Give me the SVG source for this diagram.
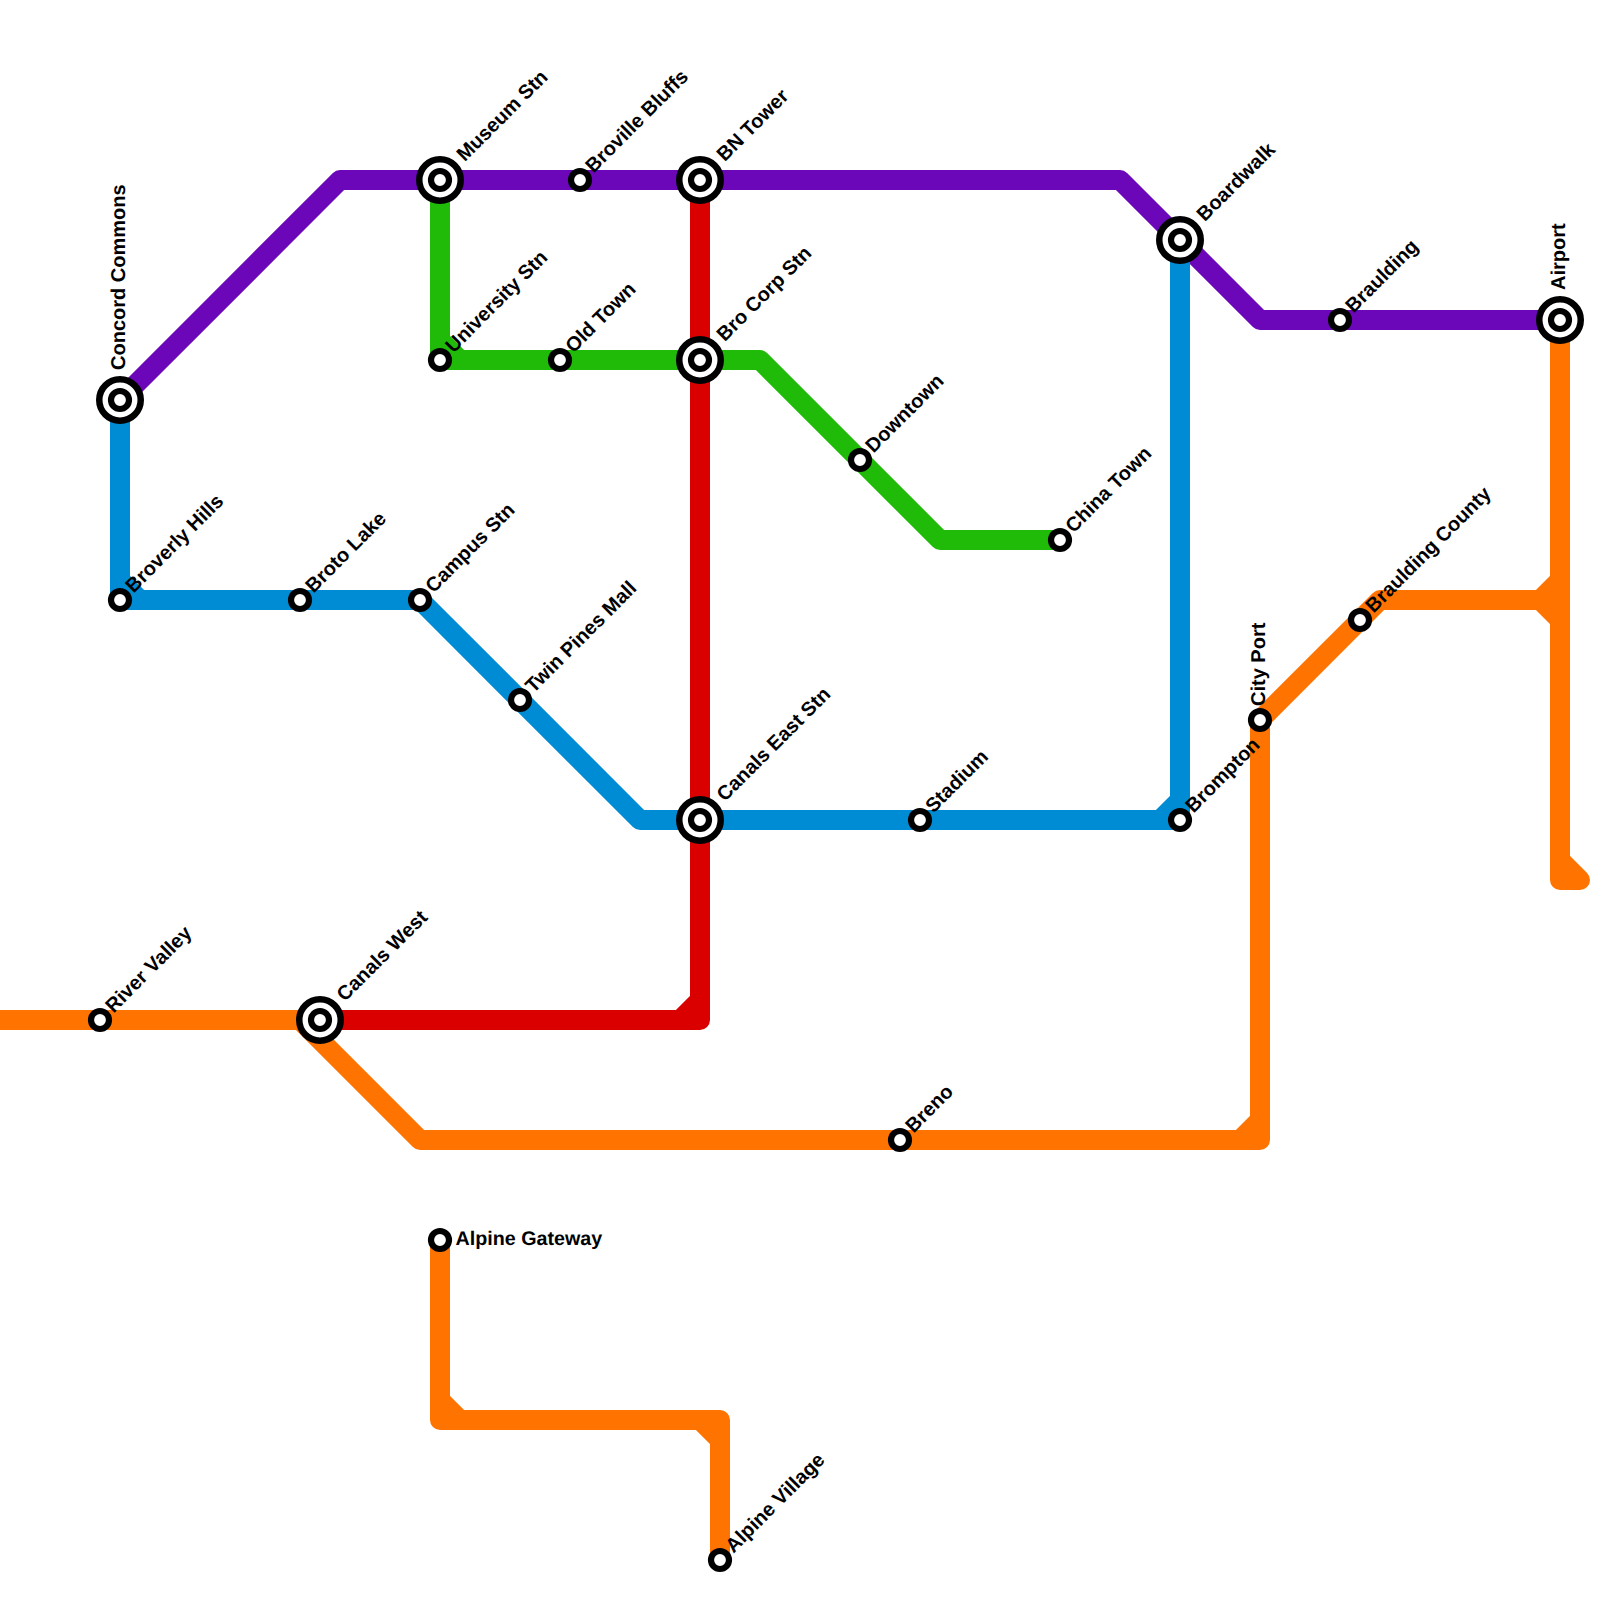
<svg xmlns="http://www.w3.org/2000/svg" width="1600" height="1600" viewBox="0 0 1600 1600">
<style>
.line{fill:none;stroke-width:20;stroke-linejoin:round;stroke-linecap:round}
.s{fill:#fff;stroke:#000;stroke-width:6.2}
.o{stroke-width:6.5}
text{font-family:"Liberation Sans",Arial,sans-serif;font-weight:700;font-size:20px;fill:#000;text-rendering:geometricPrecision}
</style>
<rect width="1600" height="1600" fill="#fff"/>
<g id="connectors">
<path class="line" style="stroke:#1fbb08" d="M440 180V360H760L940 540H1060M440 340L460 360H440Z"/>
<path class="line" style="stroke:#da0000" d="M320 1020H700V180M680 1020L700 1000V1020Z"/>
<path class="line" style="stroke:#6b07b8" d="M120 400L340 180H1120L1260 320H1560"/>
<path class="line" style="stroke:#008cd4" d="M120 400V600H420L640 820H1180V240M120 580L140 600H120ZM1160 820L1180 800V820Z"/>
<path class="line" style="stroke:#ff7300" d="M-20 1020H320M300 1020L420 1140H1260V720L1380 600H1560M1560 320V880M1240 1140L1260 1120V1140ZM1540 600L1560 580V620ZM1560 860L1580 880H1560Z"/>
<path class="line" style="stroke:#ff7300" d="M440 1240V1420H720V1560M440 1400L460 1420H440ZM700 1420L720 1440V1420Z"/>
</g>
<g id="concord-commons" transform="translate(120 400)"><circle class="s o" r="20.75"/><circle class="s" r="9"/><text transform="rotate(-90)" x="30" y="5">Concord Commons</text></g>
<g id="broverly-hills" transform="translate(120 600)"><circle class="s" r="9"/><text transform="rotate(-45)" x="14" y="5">Broverly Hills</text></g>
<g id="broto-lake" transform="translate(300 600)"><circle class="s" r="9"/><text transform="rotate(-45)" x="14" y="5">Broto Lake</text></g>
<g id="campus-stn" transform="translate(420 600)"><circle class="s" r="9"/><text transform="rotate(-45)" x="14" y="5">Campus Stn</text></g>
<g id="twin-pines-mall" transform="translate(520 700)"><circle class="s" r="9"/><text transform="rotate(-45)" x="14" y="5">Twin Pines Mall</text></g>
<g id="canals-east-stn" transform="translate(700 820)"><circle class="s o" r="20.75"/><circle class="s" r="9"/><text transform="rotate(-45)" x="30" y="5">Canals East Stn</text></g>
<g id="stadium" transform="translate(920 820)"><circle class="s" r="9"/><text transform="rotate(-45)" x="14" y="5">Stadium</text></g>
<g id="brompton" transform="translate(1180 820)"><circle class="s" r="9"/><text transform="rotate(-45)" x="14" y="5">Brompton</text></g>
<g id="museum-stn" transform="translate(440 180)"><circle class="s o" r="20.75"/><circle class="s" r="9"/><text transform="rotate(-45)" x="30" y="5">Museum Stn</text></g>
<g id="broville-bluffs" transform="translate(580 180)"><circle class="s" r="9"/><text transform="rotate(-45)" x="14" y="5">Broville Bluffs</text></g>
<g id="bn-tower" transform="translate(700 180)"><circle class="s o" r="20.75"/><circle class="s" r="9"/><text transform="rotate(-45)" x="30" y="5">BN Tower</text></g>
<g id="university-stn" transform="translate(440 360)"><circle class="s" r="9"/><text transform="rotate(-45)" x="14" y="5">University Stn</text></g>
<g id="old-town" transform="translate(560 360)"><circle class="s" r="9"/><text transform="rotate(-45)" x="14" y="5">Old Town</text></g>
<g id="bro-corp-stn" transform="translate(700 360)"><circle class="s o" r="20.75"/><circle class="s" r="9"/><text transform="rotate(-45)" x="30" y="5">Bro Corp Stn</text></g>
<g id="downtown" transform="translate(860 460)"><circle class="s" r="9"/><text transform="rotate(-45)" x="14" y="5">Downtown</text></g>
<g id="china-town" transform="translate(1060 540)"><circle class="s" r="9"/><text transform="rotate(-45)" x="14" y="5">China Town</text></g>
<g id="boardwalk" transform="translate(1180 240)"><circle class="s o" r="20.75"/><circle class="s" r="9"/><text transform="rotate(-45)" x="30" y="5">Boardwalk</text></g>
<g id="braulding" transform="translate(1340 320)"><circle class="s" r="9"/><text transform="rotate(-45)" x="14" y="5">Braulding</text></g>
<g id="airport" transform="translate(1560 320)"><circle class="s o" r="20.75"/><circle class="s" r="9"/><text transform="rotate(-90)" x="30" y="5">Airport</text></g>
<g id="braulding-county" transform="translate(1360 620)"><circle class="s" r="9"/><text transform="rotate(-45)" x="14" y="5">Braulding County</text></g>
<g id="city-port" transform="translate(1260 720)"><circle class="s" r="9"/><text transform="rotate(-90)" x="14" y="5">City Port</text></g>
<g id="river-valley" transform="translate(100 1020)"><circle class="s" r="9"/><text transform="rotate(-45)" x="14" y="5">River Valley</text></g>
<g id="canals-west" transform="translate(320 1020)"><circle class="s o" r="20.75"/><circle class="s" r="9"/><text transform="rotate(-45)" x="30" y="5">Canals West</text></g>
<g id="breno" transform="translate(900 1140)"><circle class="s" r="9"/><text transform="rotate(-45)" x="14" y="5">Breno</text></g>
<g id="alpine-gateway" transform="translate(440 1240)"><circle class="s" r="9"/><text x="15.5" y="5" style="font-size:19.7px">Alpine Gateway</text></g>
<g id="alpine-village" transform="translate(720 1560)"><circle class="s" r="9"/><text transform="rotate(-45)" x="14" y="5">Alpine Village</text></g>
</svg>
